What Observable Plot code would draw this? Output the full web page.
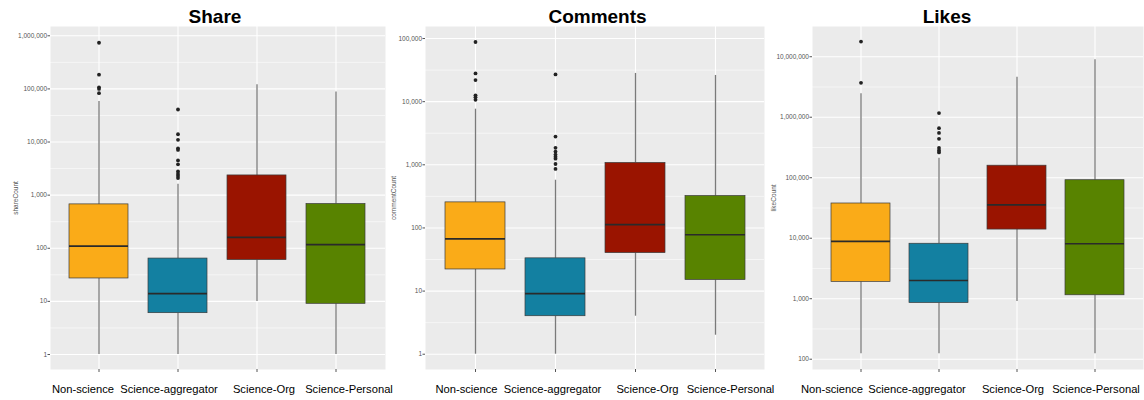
<!DOCTYPE html>
<html><head><meta charset="utf-8">
<script src="https://cdn.jsdelivr.net/npm/d3@7"></script>
<script src="https://cdn.jsdelivr.net/npm/@observablehq/plot@0.6"></script>
<style>
body{margin:0;background:#fff;}
#wrap{position:relative;width:1144px;height:400px;overflow:hidden;font-family:"Liberation Sans",Arial,Helvetica,sans-serif;}
.panel{position:absolute;top:0;}
.title{position:absolute;top:7px;font-weight:bold;font-size:19px;line-height:19px;width:200px;text-align:center;transform:translateX(-50%);color:#000;}
</style></head><body><div id="wrap"></div><script>
// ---- data ----
const categories = ["Non-science", "Science-aggregator", "Science-Org", "Science-Personal"];

const shareLo  = [1, 1, 10, 1];
const shareQ1  = [27, 6, 60, 9];
const shareMed = [110, 14, 160, 117];
const shareQ3  = [670, 64, 2350, 680];
const shareHi  = [58000, 1600, 120000, 87000];
const shareOutNonScience = [740000, 185000, 107000, 100000, 83000];
const shareOutAggregator = [41000, 14000, 11000, 7600, 7100, 4500, 3800, 2800, 2500, 2300, 2100];
const shareTicks = [1, 10, 100, 1000, 10000, 100000, 1000000];

const commentLo  = [1, 1, 4, 2];
const commentQ1  = [22, 4, 40, 15];
const commentMed = [67, 9.1, 113, 78];
const commentQ3  = [254, 33, 1070, 320];
const commentHi  = [7600, 570, 28000, 26000];
const commentOutNonScience = [88000, 28000, 22000, 12600, 11700, 10700];
const commentOutAggregator = [27000, 2800, 1860, 1620, 1450, 1340, 1250, 1030, 860];
const commentTicks = [1, 10, 100, 1000, 10000, 100000];

const likeLo  = [123, 123, 900, 123];
const likeQ1  = [1900, 850, 13900, 1140];
const likeMed = [8900, 2000, 35700, 8100];
const likeQ3  = [37500, 8100, 158000, 91000];
const likeHi  = [2450000, 209000, 4560000, 8900000];
const likeOutNonScience = [17800000, 3700000];
const likeOutAggregator = [1170000, 660000, 550000, 440000, 310000, 283000, 262000];
const likeTicks = [100, 1000, 10000, 100000, 1000000, 10000000];

// ---- styles ----
const colors = ["#FAAB18", "#1380A1", "#9A1400", "#588300"];
const FONT = '"Liberation Sans", Arial, Helvetica, sans-serif';

function panel(cfg) {
  const boxes = categories.map((c, i) => ({cat: c, lo: cfg.lo[i], q1: cfg.q1[i], med: cfg.med[i], q3: cfg.q3[i], hi: cfg.hi[i]}));
  const outs = [
    ...cfg.outNS.map(v => ({cat: categories[0], v})),
    ...cfg.outAgg.map(v => ({cat: categories[1], v}))
  ];
  const minor = cfg.ticks.map(t => t * Math.sqrt(10)).concat([cfg.ticks[0] / Math.sqrt(10)])
    .filter(v => v > cfg.domain[0] && v < cfg.domain[1] * 0.999);
  return Plot.plot({
    width: cfg.width, height: 400,
    marginTop: 26, marginBottom: 31, marginLeft: cfg.ml, marginRight: 1,
    style: {fontFamily: FONT, background: "transparent", overflow: "visible"},
    x: {type: "band", domain: categories, paddingInner: 0.25, paddingOuter: 0.225, label: null},
    y: {type: "log", domain: cfg.domain, label: cfg.label},
    color: {domain: categories, range: colors},
    marks: [
      Plot.frame({fill: "#EBEBEB", stroke: "none"}),
      Plot.gridY(minor, {stroke: "white", strokeOpacity: 1, strokeWidth: 0.55}),
      Plot.gridY(cfg.ticks, {stroke: "white", strokeOpacity: 1, strokeWidth: 1.1}),
      Plot.gridX({stroke: "white", strokeOpacity: 1, strokeWidth: 1.1}),
      Plot.ruleX(boxes, {x: "cat", y1: "lo", y2: "q1", stroke: "#7a7a7a", strokeWidth: 1.3}),
      Plot.ruleX(boxes, {x: "cat", y1: "q3", y2: "hi", stroke: "#7a7a7a", strokeWidth: 1.3}),
      Plot.barY(boxes, {x: "cat", y1: "q1", y2: "q3", fill: "cat", stroke: "#3a3a3a", strokeWidth: 0.7}),
      Plot.tickY(boxes, {x: "cat", y: "med", stroke: "#2a2a2a", strokeWidth: 1.7}),
      Plot.dot(outs, {x: "cat", y: "v", r: 1.9, fill: "#222", stroke: "none"}),
      Plot.axisY(cfg.ticks, {tickFormat: ",", fontSize: 6.5, tickSize: 2.5, tickPadding: 1, stroke: "#555", fill: "#555",
        label: cfg.label, labelAnchor: "center", labelOffset: cfg.labelOffset, labelArrow: "none"}),
      Plot.axisX({tickSize: 3, fill: "none", stroke: "#555", label: null}),
      ...categories.map((c, i) => Plot.axisX([c], {tickSize: 0, tickPadding: 16, dx: cfg.dx[i], fontSize: 11.2, fill: "black", label: null}))
    ]
  });
}

const panels = [
  {left: 0, width: 386, ml: 50, title: "Share", titleX: 215, label: "shareCount", labelOffset: 37,
   domain: [0.522, 1496000], ticks: shareTicks, lo: shareLo, q1: shareQ1, med: shareMed, q3: shareQ3, hi: shareHi,
   outNS: shareOutNonScience, outAgg: shareOutAggregator, dx: [-16, -9, 7, 13]},
  {left: 385, width: 380, ml: 40, title: "Comments", titleX: 597.5, label: "commentCount", labelOffset: 34,
   domain: [0.573, 155000], ticks: commentTicks, lo: commentLo, q1: commentQ1, med: commentMed, q3: commentQ3, hi: commentHi,
   outNS: commentOutNonScience, outAgg: commentOutAggregator, dx: [-9, -3, 12, 15]},
  {left: 764, width: 380, ml: 48, title: "Likes", titleX: 947, label: "likeCount", labelOffset: 41,
   domain: [67.6, 31600000], ticks: likeTicks, lo: likeLo, q1: likeQ1, med: likeMed, q3: likeQ3, hi: likeHi,
   outNS: likeOutNonScience, outAgg: likeOutAggregator, dx: [-29, -22, -4, 1]}
];

const wrap = document.getElementById("wrap");
for (const p of panels) {
  const div = document.createElement("div");
  div.className = "panel";
  div.style.left = p.left + "px";
  div.appendChild(panel(p));
  wrap.appendChild(div);
}
for (const p of panels) {
  const t = document.createElement("div");
  t.className = "title";
  t.style.left = p.titleX + "px";
  t.textContent = p.title;
  wrap.appendChild(t);
}
</script></body></html>
